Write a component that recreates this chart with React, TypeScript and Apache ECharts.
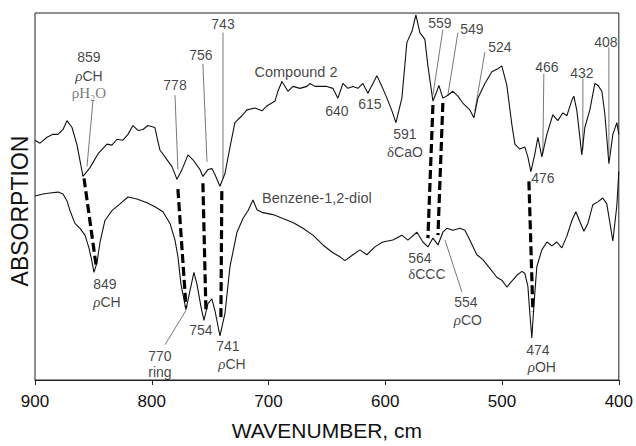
import React, { useEffect, useRef } from "react";
import * as echarts from "echarts";

// Compound 2 spectrum (upper trace): wavenumber (cm-1) and absorption (arb. units)
const wnCompound = [
  900, 895.7, 889.7, 884.6, 880.3, 876.0, 872.6, 868.3, 864.0, 858.9, 852.9, 846.1, 838.4, 834.1, 829.8,
  824.7, 820.4, 816.1, 811.8, 807.5, 803.3, 797.3, 795.5, 793.0, 788.7, 782.7, 778.4, 774.1, 769.0, 764.7,
  758.7, 756.2, 751.9, 748.5, 745.9, 741.6, 737.3, 733.0, 728.8, 722.8, 718.5, 711.6, 705.6, 701.4, 694.5,
  692.0, 688.5, 683.4, 679.1, 673.1, 667.1, 664.5, 660.3, 654.3, 650.0, 644.9, 640.6, 636.3, 632.0, 627.7,
  623.4, 619.2, 614.9, 607.2, 602.9, 598.6, 594.3, 590.9, 585.8, 581.5, 577.2, 573.8, 570.4, 566.1, 563.5,
  559.2, 555.8, 554.1, 550.7, 546.4, 542.1, 537.8, 533.6, 527.6, 524.1, 520.7, 514.7, 508.7, 503.6, 500.2,
  495.9, 491.6, 489.0, 484.8, 480.5, 477.9, 475.3, 471.9, 469.3, 465.9, 461.6, 456.5, 452.2, 447.9, 444.5,
  440.2, 438.5, 435.9, 431.7, 429.1, 424.8, 420.5, 417.9, 414.5, 411.9, 408.5, 405.1, 401.7, 400.0,
];
const absCompound = [
  245, 242, 248, 251, 251, 256, 265, 258, 240, 208, 217, 231, 241, 240, 246,
  245, 251, 260, 255, 256, 260, 258, 248, 235, 228, 218, 205, 215, 230, 225,
  215, 208, 215, 216, 210, 198, 211, 238, 263, 270, 276, 278, 275, 280, 285,
  295, 305, 295, 300, 298, 300, 303, 300, 300, 300, 298, 288, 303, 298, 300,
  298, 303, 293, 311, 300, 288, 275, 263, 288, 345, 356, 373, 355, 348, 321,
  285, 295, 301, 288, 291, 295, 290, 283, 276, 268, 288, 303, 315, 318, 321,
  301, 261, 241, 236, 238, 228, 213, 231, 248, 228, 251, 271, 265, 273, 270,
  286, 290, 275, 230, 258, 276, 303, 301, 295, 271, 221, 251, 263, 251,
];

// Benzene-1,2-diol spectrum (lower trace)
const wnDiol = [
  900, 893.2, 887.2, 880.3, 876.0, 872.6, 870.0, 865.8, 861.5, 857.2, 853.8, 851.2, 849.5, 846.9, 844.3,
  840.1, 834.1, 827.2, 820.4, 812.7, 804.1, 797.3, 790.4, 784.4, 780.1, 777.6, 775.0, 770.7, 767.3, 763.9,
  761.3, 757.9, 755.3, 751.9, 748.5, 745.9, 741.6, 737.3, 733.0, 727.0, 721.9, 717.6, 713.3, 709.9, 704.8,
  696.2, 687.7, 679.1, 670.5, 662.0, 653.4, 644.9, 638.9, 634.6, 627.7, 621.7, 615.8, 608.9, 602.1, 593.5,
  585.8, 580.7, 572.9, 567.8, 563.5, 559.2, 554.9, 550.7, 547.3, 542.1, 536.1, 531.8, 527.6, 521.6, 516.4,
  510.4, 504.5, 500.2, 495.9, 491.6, 487.3, 483.0, 480.5, 477.9, 476.2, 474.5, 472.8, 470.2, 465.9, 461.6,
  457.3, 453.1, 448.8, 444.5, 440.2, 436.8, 433.4, 429.9, 426.5, 422.3, 418.0, 413.7, 410.3, 407.7, 405.1,
  401.7, 400.0,
];
const absDiol = [
  188, 190, 191, 192, 190, 183, 173, 160, 155, 148, 135, 121, 110, 120, 141,
  163, 173, 180, 187, 185, 181, 177, 172, 160, 143, 126, 98, 72, 91, 110,
  98, 75, 61, 78, 83, 71, 45, 68, 116, 151, 165, 173, 184, 174, 171,
  169, 165, 161, 155, 148, 138, 130, 126, 122, 128, 133, 128, 136, 141, 143,
  148, 143, 151, 141, 136, 145, 138, 151, 155, 153, 155, 153, 143, 128, 123,
  114, 105, 102, 95, 101, 107, 111, 109, 96, 68, 43, 75, 116, 133, 141,
  137, 141, 135, 147, 163, 172, 162, 152, 160, 179, 182, 186, 180, 161, 142,
  178, 213,
];

const xTickValues = [900, 800, 700, 600, 500, 400];

// Correlation links between bands: [wn on compound, abs, wn on diol, abs]
const bandLinks = [
  [858.0, 206, 847.8, 118],
  [777.6, 195, 770.7, 75],
  [756.2, 201, 753.6, 70],
  [740.0, 193, 740.8, 61],
  [559.2, 281, 563.5, 145],
  [550.7, 283, 554.9, 148],
  [477.0, 203, 473.6, 70],
];

// Thin leader lines from labels to bands: [wn1, abs1, wn2, abs2]
const leaderLines = [
  [850.3, 286, 855.5, 218],
  [780.1, 291, 777.6, 215],
  [756.2, 323, 752.7, 223],
  [739.0, 355, 739.0, 206],
  [788.7, 36, 770.7, 71],
  [550.7, 358, 559.2, 291],
  [537.8, 355, 546.4, 291],
  [514.7, 335, 523.3, 275],
  [464.2, 313, 465.1, 231],
  [430.8, 308, 430.8, 235],
  [408.5, 340, 408.5, 231],
  [548.9, 143, 534.4, 90],
];

// Annotation texts: [text, wn, abs]
const annotations: [string, number, number][] = [
  ["859", 853.8, 330],
  ["{r|ρ}CH", 853.8, 311],
  ["{s|ρH₂O}", 853.8, 293],
  ["778", 780.1, 301],
  ["756", 757.9, 332],
  ["743", 739.0, 364],
  ["{big|Compound 2}", 676.5, 315],
  ["640", 641.4, 275],
  ["615", 613.2, 282],
  ["591", 583.2, 251],
  ["{d|δ}CaO", 583.2, 233],
  ["559", 553.2, 365],
  ["549", 525.8, 359],
  ["524", 501.9, 340],
  ["466", 461.6, 320],
  ["432", 431.7, 314],
  ["408", 411.1, 345],
  ["476", 465.1, 206],
  ["{big|Benzene-1,2-diol}", 658.6, 186],
  ["849", 840.1, 98],
  ["{r|ρ}CH", 838.4, 80],
  ["770", 793.0, 25],
  ["ring", 793.0, 8],
  ["754", 757.9, 51],
  ["741", 734.8, 35],
  ["{r|ρ}CH", 731.3, 16],
  ["564", 570.4, 125],
  ["{d|δ}CCC", 564.4, 108],
  ["554", 531.0, 80],
  ["{r|ρ}CO", 529.3, 61],
  ["474", 469.3, 31],
  ["{r|ρ}OH", 465.9, 13],
];

const SANS = "'Liberation Sans', Arial, Helvetica, sans-serif";
const SERIF = "'Liberation Serif', 'Times New Roman', serif";

export default function App() {
  const ref = useRef<HTMLDivElement>(null);

  useEffect(() => {
    document.body.style.margin = "0";
    if (!ref.current) return;
    const chart = echarts.init(ref.current, null, { renderer: "svg" });

    const zip = (xs: number[], ys: number[]) => xs.map((x, i) => [x, ys[i]]);

    const series: any[] = [
      {
        type: "line",
        name: "Compound 2",
        data: zip(wnCompound, absCompound),
        showSymbol: false,
        symbol: "none",
        lineStyle: { color: "#111", width: 1.1 },
        silent: true,
        z: 3,
      },
      {
        type: "line",
        name: "Benzene-1,2-diol",
        data: zip(wnDiol, absDiol),
        showSymbol: false,
        symbol: "none",
        lineStyle: { color: "#111", width: 1.1 },
        silent: true,
        z: 3,
      },
    ];

    bandLinks.forEach((l) => {
      series.push({
        type: "line",
        data: [
          [l[0], l[1]],
          [l[2], l[3]],
        ],
        symbol: "none",
        lineStyle: { color: "#000", width: 3.2, type: [9, 4] },
        silent: true,
        z: 4,
      });
    });

    leaderLines.forEach((l) => {
      series.push({
        type: "line",
        data: [
          [l[0], l[1]],
          [l[2], l[3]],
        ],
        symbol: "none",
        lineStyle: { color: "#555", width: 0.8 },
        silent: true,
        z: 2,
      });
    });

    series.push({
      type: "scatter",
      symbolSize: 1,
      itemStyle: { color: "rgba(0,0,0,0)" },
      silent: true,
      z: 5,
      data: annotations.map((a) => ({
        value: [a[1], a[2]],
        label: {
          show: true,
          position: "inside",
          formatter: a[0],
          color: "#111",
          fontSize: 14,
          fontFamily: SANS,
          rich: {
            r: { fontStyle: "italic", fontFamily: SERIF, fontSize: 15, color: "#111" },
            d: { fontFamily: SERIF, fontSize: 15, color: "#111" },
            s: { fontFamily: SERIF, fontSize: 15, color: "#555" },
            big: { fontFamily: SANS, fontSize: 14.5, color: "#111" },
          },
        },
      })),
    });

    chart.setOption({
      animation: false,
      backgroundColor: "#fff",
      grid: {
        left: 35,
        right: 17,
        top: 13,
        bottom: 58,
        show: true,
        borderColor: "#222",
        borderWidth: 1,
        backgroundColor: "transparent",
      },
      xAxis: {
        type: "value",
        min: 400,
        max: 900,
        interval: 100,
        inverse: true,
        name: "WAVENUMBER, cm",
        nameLocation: "middle",
        nameGap: 40,
        nameTextStyle: { fontSize: 21, fontFamily: SANS, color: "#111" },
        axisLine: { show: true, lineStyle: { color: "#222", width: 1 } },
        axisTick: { show: true, inside: false, length: 5, lineStyle: { color: "#222" } },
        axisLabel: {
          show: true,
          fontSize: 17,
          fontFamily: SANS,
          color: "#111",
          margin: 13,
          showMinLabel: true,
          showMaxLabel: true,
          formatter: (v: number) => (xTickValues.includes(v) ? String(v) : ""),
        },
        splitLine: { show: false },
      },
      yAxis: {
        type: "value",
        min: 0,
        max: 375,
        axisLine: { show: false },
        axisTick: { show: false },
        axisLabel: { show: false },
        splitLine: { show: false },
      },
      graphic: [
        {
          type: "text",
          x: 20,
          y: 211,
          rotation: Math.PI / 2,
          style: {
            text: "ABSORPTION",
            fontSize: 23,
            fontFamily: SANS,
            fill: "#111",
            textAlign: "center",
            textVerticalAlign: "middle",
          },
        },
      ],
      series,
    });

    return () => {
      chart.dispose();
    };
  }, []);

  return (
    <div
      ref={ref}
      style={{ position: "absolute", left: 0, top: 0, width: 636, height: 446 }}
    />
  );
}
